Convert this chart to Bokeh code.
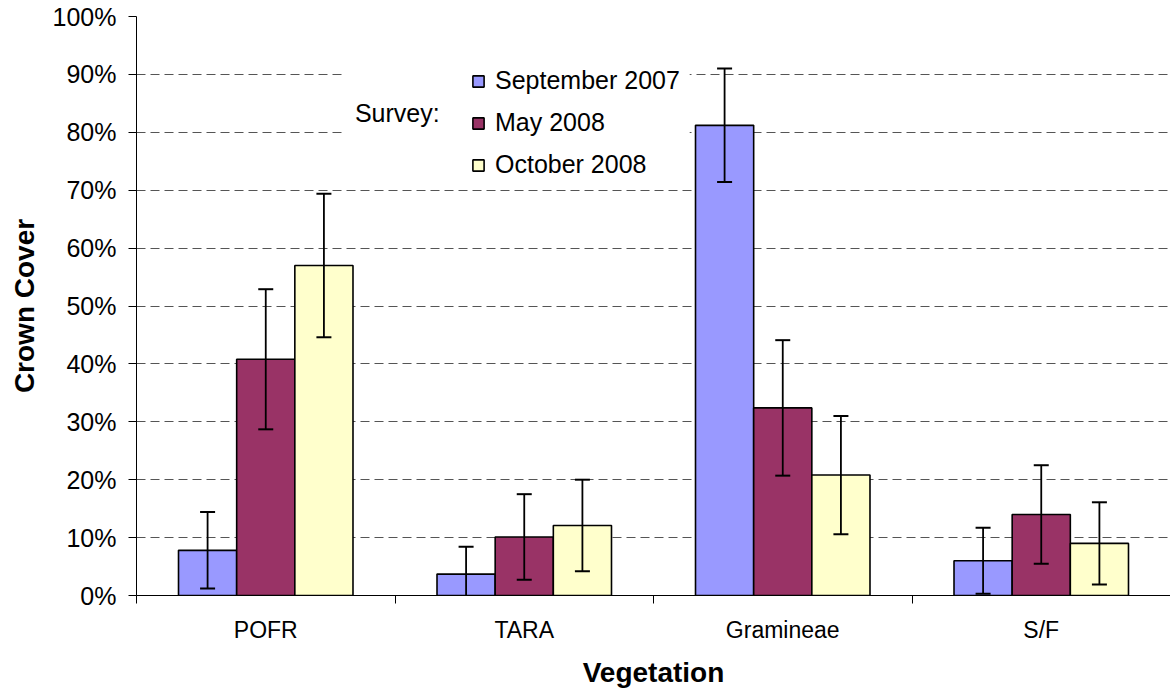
from bokeh.plotting import figure
from bokeh.models import (ColumnDataSource, Range1d, FixedTicker, PrintfTickFormatter,
                          Whisker, TeeHead, Legend, LegendItem, Label, BoxAnnotation)
from bokeh.embed import file_html
from bokeh.resources import INLINE

categories = ["POFR", "TARA", "Gramineae", "S/F"]
series_names = ["September 2007", "May 2008", "October 2008"]
sep_2007 = [7.8, 3.7, 81.2, 6.0]
sep_2007_err = [6.6, 4.7, 9.8, 5.7]
may_2008 = [40.8, 10.1, 32.4, 14.0]
may_2008_err = [12.1, 7.4, 11.7, 8.5]
oct_2008 = [57.0, 12.1, 20.8, 9.0]
oct_2008_err = [12.4, 7.9, 10.2, 7.1]
y_ticks = [0, 10, 20, 30, 40, 50, 60, 70, 80, 90, 100]

colors = ["#9999FF", "#993366", "#FFFFCC"]
FONT = "Liberation Sans"

p = figure(width=1170, height=690, x_range=Range1d(0, len(categories)), y_range=Range1d(0, 100),
           output_backend="svg", toolbar_location=None,
           min_border_left=136, min_border_right=0, min_border_top=16, min_border_bottom=94)
p.outline_line_color = None
p.background_fill_color = "white"
p.border_fill_color = "white"

# grid
p.xgrid.grid_line_color = None
p.ygrid.grid_line_color = "#555555"
p.ygrid.grid_line_dash = "9 5"
p.ygrid.grid_line_width = 1.2
p.ygrid.ticker = FixedTicker(ticks=y_ticks)

# y axis
p.yaxis.ticker = FixedTicker(ticks=y_ticks)
p.yaxis.formatter = PrintfTickFormatter(format="%d%%")
p.yaxis.major_tick_out = 8
p.yaxis.major_tick_in = 0
p.yaxis.minor_tick_line_color = None
p.yaxis.axis_line_color = "black"
p.yaxis.major_tick_line_color = "black"
p.yaxis.major_label_text_font = FONT
p.yaxis.major_label_text_font_size = "25px"
p.yaxis.major_label_text_color = "black"
p.yaxis.major_label_standoff = 12
p.yaxis.axis_label = "Crown Cover"
p.yaxis.axis_label_text_font = FONT
p.yaxis.axis_label_text_font_style = "bold"
p.yaxis.axis_label_text_font_size = "28px"
p.yaxis.axis_label_text_color = "black"
p.yaxis.axis_label_standoff = 10

# x axis
centers = [i + 0.5 for i in range(len(categories))]
bounds = [i for i in range(len(categories) + 1)]
p.xaxis.ticker = FixedTicker(ticks=centers, minor_ticks=bounds)
p.xaxis.major_label_overrides = {c: name for c, name in zip(centers, categories)}
p.xaxis.major_tick_out = 0
p.xaxis.major_tick_in = 0
p.xaxis.minor_tick_out = 8
p.xaxis.minor_tick_in = 0
p.xaxis.minor_tick_line_color = "black"
p.xaxis.axis_line_color = "black"
p.xaxis.major_label_text_font = FONT
p.xaxis.major_label_text_font_size = "23px"
p.xaxis.major_label_text_color = "black"
p.xaxis.major_label_standoff = 13
p.xaxis.axis_label = "Vegetation"
p.xaxis.axis_label_text_font = FONT
p.xaxis.axis_label_text_font_style = "bold"
p.xaxis.axis_label_text_font_size = "28px"
p.xaxis.axis_label_text_color = "black"
p.xaxis.axis_label_standoff = 11

# white box behind legend (covers grid lines)
p.add_layout(BoxAnnotation(left=0.81, right=2.14, top=92.6, bottom=70.9,
                           fill_color="white", fill_alpha=1.0, line_color=None,
                           level="underlay"))

bar_w = 0.225
offsets = [-bar_w, 0.0, bar_w]
series = [(sep_2007, sep_2007_err), (may_2008, may_2008_err), (oct_2008, oct_2008_err)]
legend_items = []
for k, ((vals, errs), name, col) in enumerate(zip(series, series_names, colors)):
    xs = [c + offsets[k] for c in centers]
    src = ColumnDataSource(dict(x=xs, top=vals,
                                upper=[v + e for v, e in zip(vals, errs)],
                                lower=[v - e for v, e in zip(vals, errs)]))
    r = p.vbar(x="x", top="top", width=bar_w, bottom=0, source=src,
               fill_color=col, line_color="black", line_width=1.6)
    w = Whisker(source=src, base="x", upper="upper", lower="lower",
                line_color="black", line_width=1.8, level="overlay",
                upper_head=TeeHead(size=15, line_color="black", line_width=2),
                lower_head=TeeHead(size=15, line_color="black", line_width=2))
    p.add_layout(w)
    legend_items.append(LegendItem(label=name, renderers=[r]))

legend = Legend(items=legend_items, location=(335, 416), orientation="vertical",
                label_text_font=FONT, label_text_font_size="25px", label_text_color="black",
                glyph_width=14, glyph_height=14, label_height=28, spacing=13,
                label_standoff=10, padding=5, margin=0,
                background_fill_color="white", background_fill_alpha=1.0,
                border_line_color=None)
p.add_layout(legend, "center")

p.add_layout(Label(x=0.845, y=83.3, text="Survey:", text_font=FONT, text_font_size="25px",
                   text_color="black", text_baseline="middle", text_align="left"))

open("out.html", "w").write(file_html(p, INLINE))
